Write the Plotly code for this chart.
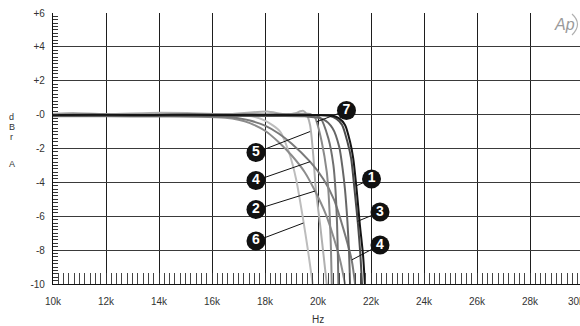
import plotly.graph_objects as go

# ---- data (frequency in Hz, level in dBr A) ----
freq_1 = [10000, 11500, 13000, 14500, 16000, 17500, 19000, 20000, 20520, 20800, 21020, 21210, 21330, 21460, 21580, 21700, 21770]
dbr_1 = [-0.02, -0.01, -0.02, -0.01, -0.02, -0.01, -0.02, -0.02, -0.05, -0.22, -0.61, -1.6, -2.58, -4.45, -6.5, -8.3, -10.0]

freq_3 = [10000, 11500, 13000, 14500, 16000, 17500, 19000, 20000, 20420, 20700, 20910, 21110, 21250, 21380, 21510, 21600, 21660]
dbr_3 = [-0.04, -0.03, -0.05, -0.04, -0.03, -0.05, -0.04, -0.04, -0.07, -0.25, -0.61, -1.6, -2.58, -4.45, -6.5, -8.3, -10.0]

freq_8 = [10000, 12000, 14000, 16000, 18000, 19500, 20200, 20550, 20800, 20930, 21020, 21110, 21170, 21210]
dbr_8 = [-0.06, -0.05, -0.06, -0.06, -0.08, -0.1, -0.28, -0.8, -1.9, -3.2, -4.45, -6.3, -8.1, -10.0]

freq_m = [10000, 12000, 14000, 16000, 18000, 19500, 19850, 20080, 20390, 20580, 20660, 20720, 20750, 20770]
dbr_m = [-0.08, -0.06, -0.08, -0.06, -0.06, -0.04, -0.03, -0.18, -1.4, -2.97, -4.45, -6.5, -8.3, -10.0]

freq_7 = [10000, 12000, 14000, 16000, 18000, 19000, 19500, 19700, 19890, 19950, 20140, 20330, 20390, 20450, 20490, 20520]
dbr_7 = [0.0, 0.02, 0.0, 0.03, 0.0, 0.04, 0.05, 0.04, -0.18, -0.42, -1.6, -3.37, -4.45, -6.22, -8.0, -10.0]

freq_5 = [10000, 10750, 12000, 13660, 15060, 16500, 18080, 18700, 19150, 19330, 19450, 19560, 19700, 19820, 19920, 20080, 20210, 20330]
dbr_5 = [0.05, 0.1, 0.03, 0.1, 0.09, 0.03, 0.18, 0.03, 0.08, 0.2, 0.22, 0.05, -0.61, -2.38, -4.45, -6.5, -8.3, -10.0]

freq_2 = [10000, 12000, 14000, 15500, 16500, 17000, 17430, 18000, 18500, 19000, 19500, 19890, 20300, 20600, 20850, 21020]
dbr_2 = [-0.1, -0.1, -0.11, -0.12, -0.18, -0.3, -0.5, -0.95, -1.6, -2.4, -3.4, -4.51, -5.9, -7.3, -8.7, -10.0]

freq_4 = [10000, 12000, 14000, 15500, 16500, 17000, 17430, 18000, 18500, 19000, 19700, 20200, 20600, 20950, 21270, 21400]
dbr_4 = [-0.07, -0.08, -0.07, -0.09, -0.13, -0.22, -0.35, -0.65, -1.1, -1.7, -2.78, -3.8, -5.0, -6.7, -8.58, -10.0]

freq_6 = [10000, 12000, 14000, 16000, 17000, 17500, 18000, 18570, 18940, 19180, 19430, 19620, 19800]
dbr_6 = [0.02, 0.04, 0.01, 0.02, -0.03, -0.1, -0.35, -1.0, -2.4, -3.86, -6.1, -8.0, -10.0]

x_ticks = [10000, 12000, 14000, 16000, 18000, 20000, 22000, 24000, 26000, 28000]
x_labels = ["10k", "12k", "14k", "16k", "18k", "20k", "22k", "24k", "26k", "28k"]
y_ticks = [-10, -8, -6, -4, -2, 0, 2, 4, 6]
y_labels = ["-10", "-8", "-6", "-4", "-2", "-0", "+2", "+4", "+6"]

# callout number, label centre (Hz, dB), point on the curve (Hz, dB)
callouts = [
    ("7", 21075, 0.24, 19950, -0.42),
    ("5", 17660, -2.24, 19700, -1.0),
    ("4", 17660, -3.89, 19700, -2.78),
    ("2", 17660, -5.60, 19890, -4.51),
    ("6", 17660, -7.46, 19450, -6.4),
    ("1", 22020, -3.80, 21450, -4.2),
    ("3", 22340, -5.75, 21490, -6.3),
    ("4", 22340, -7.70, 21270, -8.58),
]

FONT = "Liberation Sans, Arial, sans-serif"

curves = [
    (freq_6, dbr_6, "#bdbdbd"),
    (freq_5, dbr_5, "#b0b0b0"),
    (freq_2, dbr_2, "#8c8c8c"),
    (freq_4, dbr_4, "#7a7a7a"),
    (freq_7, dbr_7, "#8a8a8a"),
    (freq_m, dbr_m, "#707070"),
    (freq_8, dbr_8, "#666666"),
    (freq_3, dbr_3, "#4a4a4a"),
    (freq_1, dbr_1, "#151515"),
]

fig = go.Figure()
for fx, fy, col in curves:
    fig.add_trace(go.Scatter(
        x=fx, y=fy, mode="lines",
        line=dict(color=col, width=2, shape="spline", smoothing=0.7),
        hoverinfo="skip", showlegend=False,
    ))

# pointer lines, then the numbered discs on top
px, py = [], []
for _, lx, ly, tx, ty in callouts:
    px += [lx, tx, None]
    py += [ly, ty, None]
fig.add_trace(go.Scatter(x=px, y=py, mode="lines", line=dict(color="#111", width=1),
                         hoverinfo="skip", showlegend=False))
fig.add_trace(go.Scatter(
    x=[c[1] for c in callouts], y=[c[2] for c in callouts],
    mode="markers+text", text=["<b>%s</b>" % c[0] for c in callouts],
    textposition="middle center",
    textfont=dict(family=FONT, size=14, color="white"),
    marker=dict(size=19, color="#111", line=dict(width=0)),
    hoverinfo="skip", showlegend=False,
))

fig.update_xaxes(
    range=[10000, 29887], tickmode="array", tickvals=x_ticks, ticktext=x_labels,
    showgrid=True, gridcolor="#1e1e1e", gridwidth=1.2, zeroline=False,
    showline=True, linecolor="#111", linewidth=1.2,
    ticks="inside", ticklen=11, tickcolor="#333",
    minor=dict(dtick=200, ticks="inside", ticklen=11, tickcolor="#444", showgrid=False),
    tickfont=dict(family=FONT, size=10, color="#333"), ticklabelstandoff=8,
)
fig.update_yaxes(
    range=[-10, 6], tickmode="array", tickvals=y_ticks, ticktext=y_labels,
    showgrid=True, gridcolor="#3a3a3a", gridwidth=1.2, zeroline=False,
    showline=True, linecolor="#111", linewidth=1.2,
    ticks="inside", ticklen=5, tickcolor="#222",
    minor=dict(dtick=0.2, ticks="inside", ticklen=5, tickcolor="#333", showgrid=False),
    tickfont=dict(family=FONT, size=10, color="#333"), ticklabelstandoff=5,
)

W, H, L, T, B = 580, 326, 53, 13, 42
pw, ph = W - L, H - T - B


def paper(xp, yp):
    return (xp - L) / pw, (H - B - yp) / ph


def label(text, xp, yp, size=10, color="#333"):
    x_, y_ = paper(xp, yp)
    return dict(text=text, x=x_, y=y_, xref="paper", yref="paper", showarrow=False,
                xanchor="center", yanchor="middle",
                font=dict(family=FONT, size=size, color=color))


annotations = [label(ch, 11.5, yp, size=9) for ch, yp in [("d", 117), ("B", 127), ("r", 137), ("A", 164)]]
annotations.append(label("Hz", 318, 319))
annotations.append(label("30k", 576, 301))
annotations.append(label("<i>Ap</i>", 564, 25, size=16, color="#9a9a9a"))

fig.update_layout(
    width=W, height=H,
    margin=dict(l=L, r=0, t=T, b=B, pad=0, autoexpand=False),
    paper_bgcolor="white", plot_bgcolor="white",
    annotations=annotations,
    shapes=[dict(type="path", xref="paper", yref="paper",
                 path="M %f %f Q %f %f %f %f" % (paper(572, 14) + paper(583, 24) + paper(572, 35)),
                 line=dict(color="#b0b0b0", width=1.2))],
)

fig.write_html("out.html", config={"displayModeBar": False},
               post_script="document.body.style.margin='0';")
